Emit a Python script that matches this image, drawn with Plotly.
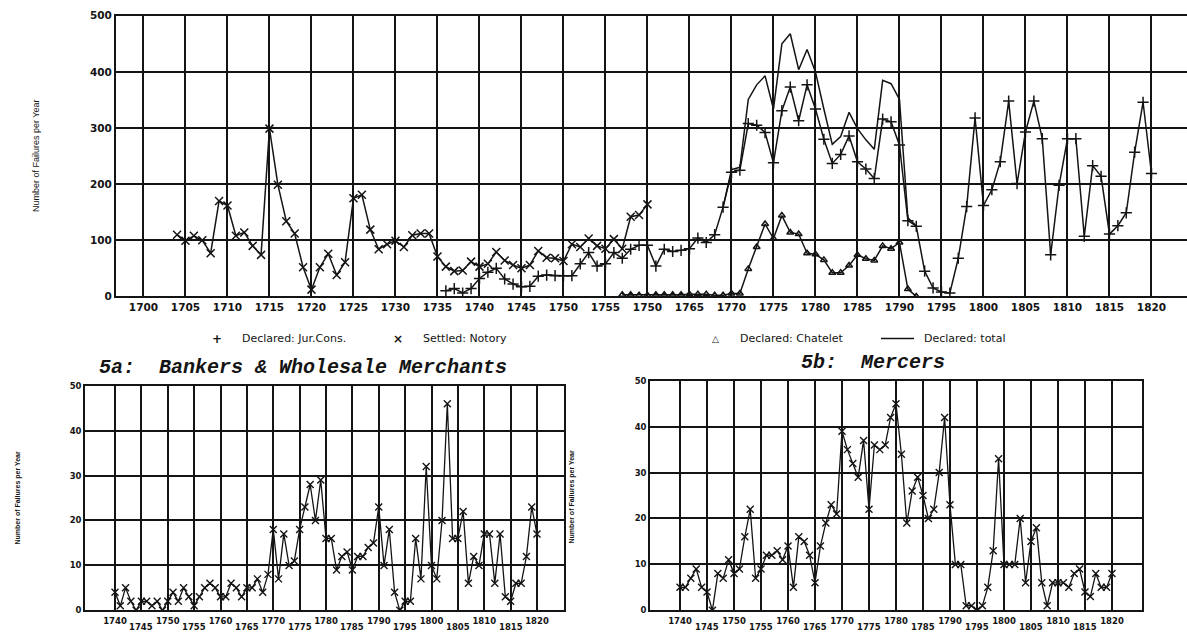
import plotly.graph_objects as go

W, H = 1187, 633

# ---------------- data: top chart (failures per year) ----------------
notory_years = list(range(1704, 1761))
notory_vals = [110, 99, 108, 100, 77, 170, 162, 108, 114, 90, 74, 299, 199, 134, 112, 52,
               12, 52, 76, 38, 61, 175, 181, 119, 84, 93, 99, 88, 109, 112, 112, 71,
               53, 45, 46, 62, 53, 58, 79, 64, 56, 50, 56, 81, 69, 68, 63, 93,
               88, 103, 90, 85, 102, 85, 142, 145, 164]

jur_years = list(range(1736, 1821))
jur_vals = [10, 14, 6, 14, 32, 43, 50, 31, 22, 17, 18, 36, 38, 37, 37, 37,
            58, 78, 54, 58, 78, 68, 84, 91, 91, 54, 84, 80, 82, 85, 104, 96,
            110, 159, 221, 225, 308, 305, 292, 238, 331, 373, 313, 377, 334, 280,
            237, 253, 286, 240, 227, 210, 316, 311, 270, 135, 125, 45, 15, 8, 6,
            68, 160, 318, 162, 190, 240, 348, 201, 293, 348, 281, 74, 198, 281,
            281, 107, 233, 214, 111, 126, 149, 257, 346, 219]

chat_years = list(range(1757, 1793))
chat_vals = [3, 3, 2, 2, 3, 3, 3, 3, 4, 4, 4, 2, 2, 5, 5, 49, 88, 129, 103, 144,
             114, 111, 77, 75, 65, 42, 42, 55, 74, 67, 64, 90, 85, 96, 13, 0]

total_years = list(range(1769, 1793))
total_vals = [159, 226, 230, 351, 377, 393, 334, 450, 468, 404, 440, 400, 334,
              271, 285, 328, 299, 279, 262, 385, 379, 351, 140, 126]

top_ticks = list(range(1700, 1821, 5))
top_ticktext = ["1750" if t == 1760 else str(t) for t in top_ticks]
top_yticks = [0, 100, 200, 300, 400, 500]

# ---------------- data: 5a bankers & wholesale merchants ----------------
a_years = list(range(1740, 1821))
a_vals = [4, 1, 5, 2, 0, 2, 2, 1, 2, 0, 2, 4, 2, 5, 3, 1, 3, 5, 6, 5, 3, 3, 6, 5,
          3, 5, 5, 7, 4, 8, 18, 7, 17, 10, 11, 18, 23, 28, 20, 29, 16, 16, 9, 12,
          13, 9, 12, 12, 14, 15, 23, 10, 18, 4, 0, 2, 2, 16, 7, 32, 10, 7, 20, 46,
          16, 16, 22, 6, 12, 10, 17, 17, 6, 17, 3, 2, 6, 6, 12, 23, 17]

# ---------------- data: 5b mercers ----------------
b_years = list(range(1740, 1821))
b_vals = [5, 5, 7, 9, 5, 4, 0, 8, 7, 11, 8, 9, 16, 22, 7, 9, 12, 12, 13, 11, 14,
          5, 16, 15, 12, 6, 14, 19, 23, 21, 39, 35, 32, 29, 37, 22, 36, 35, 36,
          42, 45, 34, 19, 26, 29, 25, 20, 22, 30, 42, 23, 10, 10, 1, 1, 0, 1, 5,
          13, 33, 10, 10, 10, 20, 6, 15, 18, 6, 1, 6, 6, 6, 5, 8, 9, 4, 3, 8, 5, 5, 8]

bot_ticks = list(range(1740, 1821, 5))
bot_upper_text = [str(t) if t % 10 == 0 else "" for t in bot_ticks]
bot_lower_ticks = list(range(1745, 1820, 10))
bot_yticks = [0, 10, 20, 30, 40, 50]

legend_labels = ["Declared: Jur.Cons.", "Settled: Notory", "Declared: Chatelet", "Declared: total"]
ytitle = "Number of Failures per Year"
title_a = "5a:  Bankers & Wholesale Merchants"
title_b = "5b:  Mercers"

# ---------------- styling ----------------
INK = "#141414"
TICKFONT = dict(family="DejaVu Sans", size=10.5, color=INK, weight="bold")
BOTFONT = dict(family="DejaVu Sans", size=8.5, color=INK, weight="bold")


def px(xp):
    return xp / W


def py(yp):
    return 1 - yp / H


fig = go.Figure()

line_style = dict(color=INK, width=1.5)

fig.add_trace(go.Scatter(x=notory_years, y=notory_vals, mode="lines+markers",
                         line=line_style,
                         marker=dict(symbol="x-thin-open", size=8, color=INK, line=dict(color=INK, width=1.5)),
                         xaxis="x", yaxis="y", showlegend=False, name=legend_labels[1]))
fig.add_trace(go.Scatter(x=jur_years, y=jur_vals, mode="lines+markers",
                         line=line_style,
                         marker=dict(symbol="cross-thin-open", size=8, color=INK, line=dict(color=INK, width=1.5)),
                         xaxis="x", yaxis="y", showlegend=False, name=legend_labels[0]))
fig.add_trace(go.Scatter(x=chat_years, y=chat_vals, mode="lines+markers",
                         line=line_style,
                         marker=dict(symbol="triangle-up-open", size=6, color=INK, line=dict(color=INK, width=1.5)),
                         xaxis="x", yaxis="y", showlegend=False, name=legend_labels[2]))
fig.add_trace(go.Scatter(x=total_years, y=total_vals, mode="lines",
                         line=line_style, xaxis="x", yaxis="y", showlegend=False, name=legend_labels[3]))

fig.add_trace(go.Scatter(x=a_years, y=a_vals, mode="lines+markers", line=dict(color=INK, width=1.3),
                         marker=dict(symbol="x-thin-open", size=7, color=INK, line=dict(color=INK, width=1.4)),
                         xaxis="x2", yaxis="y2", showlegend=False, name=title_a))
fig.add_trace(go.Scatter(x=b_years, y=b_vals, mode="lines+markers", line=dict(color=INK, width=1.3),
                         marker=dict(symbol="x-thin-open", size=7, color=INK, line=dict(color=INK, width=1.4)),
                         xaxis="x3", yaxis="y3", showlegend=False, name=title_b))

top_x_range = [1696.73, 1824.23]
a_x_range = [1734.31, 1825.12]
b_x_range = [1734.44, 1825.56]

common_axis = dict(showgrid=True, gridcolor=INK, showline=True, linecolor=INK,
                   zeroline=False, ticks="", fixedrange=True)

fig.update_layout(
    width=W, height=H,
    margin=dict(l=0, r=0, t=0, b=0),
    paper_bgcolor="white", plot_bgcolor="white",
    showlegend=False,
    xaxis=dict(domain=[px(116), 1.0], range=top_x_range, anchor="y",
               tickmode="array", tickvals=top_ticks, ticktext=top_ticktext,
               gridwidth=2, linewidth=2, mirror=True, tickfont=TICKFONT, **common_axis),
    yaxis=dict(domain=[py(296), py(10)], range=[0, 500], anchor="x",
               tickmode="array", tickvals=top_yticks,
               gridwidth=2, linewidth=2, tickfont=TICKFONT, **common_axis),
    xaxis2=dict(domain=[px(85), px(564)], range=a_x_range, anchor="y2",
                tickmode="array", tickvals=bot_ticks, ticktext=bot_upper_text,
                ticklabelstandoff=2,
                gridwidth=1.6, linewidth=1.6, mirror=True, tickfont=BOTFONT, **common_axis),
    yaxis2=dict(domain=[py(616), py(387)], range=[0, 50], anchor="x2",
                tickmode="array", tickvals=bot_yticks,
                gridwidth=1.6, linewidth=1.6, mirror=True, tickfont=BOTFONT, **common_axis),
    xaxis3=dict(domain=[px(650), px(1142)], range=b_x_range, anchor="y3",
                tickmode="array", tickvals=bot_ticks, ticktext=bot_upper_text,
                ticklabelstandoff=2,
                gridwidth=1.6, linewidth=1.6, mirror=True, tickfont=BOTFONT, **common_axis),
    yaxis3=dict(domain=[py(616), py(382)], range=[0, 50], anchor="x3",
                tickmode="array", tickvals=bot_yticks,
                gridwidth=1.6, linewidth=1.6, mirror=True, tickfont=BOTFONT, **common_axis),
)

ann = []
LEG_Y = py(339)
legfont = dict(family="DejaVu Sans", size=11, color=INK)
symfont = dict(family="DejaVu Sans", size=12, color=INK, weight="bold")
ann.append(dict(x=px(217), y=LEG_Y, text="+", font=symfont, xanchor="center"))
ann.append(dict(x=px(240), y=LEG_Y, text=legend_labels[0], font=legfont, xanchor="left"))
ann.append(dict(x=px(398), y=LEG_Y, text="×", font=symfont, xanchor="center"))
ann.append(dict(x=px(421), y=LEG_Y, text=legend_labels[1], font=legfont, xanchor="left"))
ann.append(dict(x=px(715), y=LEG_Y, text="△", font=dict(family="DejaVu Sans", size=9, color=INK, weight="bold"), xanchor="center"))
ann.append(dict(x=px(738), y=LEG_Y, text=legend_labels[2], font=legfont, xanchor="left"))
ann.append(dict(x=px(922), y=LEG_Y, text=legend_labels[3], font=legfont, xanchor="left"))

# y-axis titles
ann.append(dict(x=px(29), y=py(153), text=ytitle, textangle=-90,
                font=dict(family="Liberation Sans", size=9, color=INK)))
ann.append(dict(x=px(12), y=py(501), text=ytitle, textangle=-90,
                font=dict(family="Liberation Sans", size=7, color=INK, weight="bold")))
ann.append(dict(x=px(572), y=py(500), text=ytitle, textangle=-90,
                font=dict(family="Liberation Sans", size=7, color=INK, weight="bold")))

# panel titles
titlefont = dict(family="Liberation Mono", size=20, color=INK, weight="bold", style="italic")
ann.append(dict(x=px(303), y=py(368), text=title_a, font=titlefont, xanchor="center"))
ann.append(dict(x=px(873), y=py(363), text=title_b, font=titlefont, xanchor="center"))

for a in ann:
    a.update(xref="paper", yref="paper", showarrow=False, yanchor="middle")

# staggered lower-row year labels of the two small panels
for xr in ("x2", "x3"):
    for t in bot_lower_ticks:
        ann.append(dict(x=t, xref=xr, y=py(626), yref="paper", text=str(t),
                        showarrow=False, font=BOTFONT, xanchor="center", yanchor="top"))

fig.update_layout(annotations=ann)

fig.add_shape(type="line", xref="paper", yref="paper", x0=px(881), x1=px(914),
              y0=LEG_Y, y1=LEG_Y, line=dict(color=INK, width=1.5))

fig.write_html("out.html")
